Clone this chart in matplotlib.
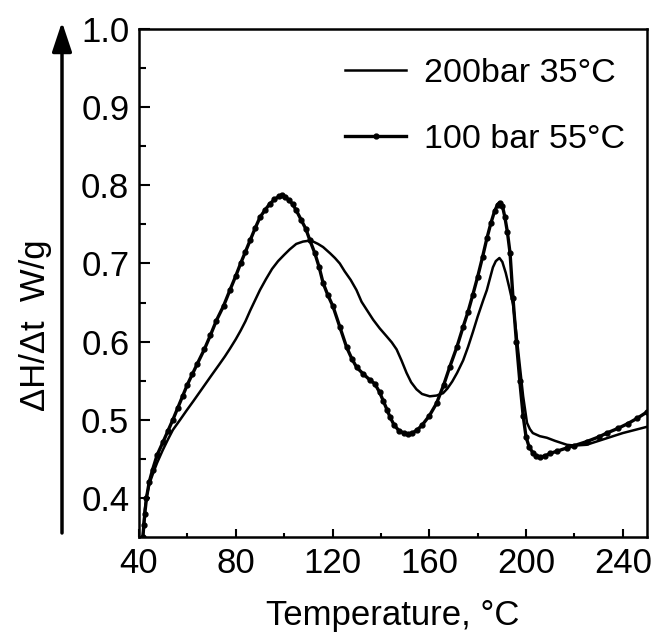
import matplotlib
matplotlib.use("Agg")
import matplotlib.pyplot as plt
from matplotlib.ticker import MultipleLocator

plt.rcParams['font.family'] = ['Liberation Sans', 'DejaVu Sans']

# ---- data ----
solid_label = "200bar 35°C"
solid_x = [41.6, 42.0, 42.4, 43.2, 44.4, 46, 47.5, 49.8, 52, 54, 57, 59.7, 62.5, 65, 67.5, 70,
           73, 75.5, 77.6, 80, 82, 84, 86, 88, 90, 92.5, 95, 97.5, 100, 102.3, 105, 107.8,
           110, 112, 114, 116.1, 119, 121, 123, 125, 127.5, 129.9, 132, 134.5, 136.8, 139.5,
           142.3, 144.5, 146.5, 148.5, 150.6, 152.5, 154.7, 157, 160.2, 163, 165.7,
           167.5, 169.5, 171.5, 174, 176, 178, 180, 182.3, 183.8, 185, 186.3, 187.5, 189, 190.2,
           191.6, 193, 194.6, 196, 197.4, 198.8, 200.4, 201.6, 202.8, 205.7, 208.6, 212,
           216.9, 220, 225, 230, 235, 240, 245, 250]
solid_y = [0.350, 0.368, 0.385, 0.403, 0.419, 0.433, 0.445, 0.461, 0.475, 0.487, 0.500, 0.512,
           0.524, 0.535, 0.546, 0.557, 0.570, 0.581, 0.591, 0.603, 0.614, 0.626, 0.640, 0.653,
           0.666, 0.680, 0.693, 0.703, 0.711, 0.718, 0.725, 0.728, 0.729, 0.728, 0.725, 0.721,
           0.713, 0.707, 0.700, 0.690, 0.679, 0.666, 0.651, 0.639, 0.628, 0.617, 0.607, 0.599,
           0.590, 0.576, 0.560, 0.548, 0.539, 0.533, 0.530, 0.531, 0.534,
           0.540, 0.549, 0.560, 0.576, 0.593, 0.612, 0.632, 0.653, 0.666, 0.680, 0.695,
           0.703, 0.707, 0.702, 0.688, 0.670, 0.648, 0.610, 0.570, 0.530, 0.496, 0.488, 0.483,
           0.479, 0.477, 0.473, 0.468, 0.467, 0.468, 0.473, 0.478, 0.483, 0.487, 0.491]

dot_label = "100 bar 55°C"
dot_x = [41.6, 42.0, 42.4, 43.1, 44.2, 45.6, 47.5, 50, 52, 54, 56, 58, 60, 62, 64, 67, 69.5,
         72, 75, 77.6, 80, 82, 84, 86, 88, 90, 92, 94, 96, 98, 99, 100.5, 102, 103.5, 105, 107,
         109, 110.6, 112.7, 114.5, 116.1, 118, 120.2, 123, 125.8, 128, 130, 132.6, 135.4,
         137.5, 139.5, 141, 142.5, 143.7, 145.5, 147.5, 149.5, 151.2, 153, 155, 157, 160, 163,
         166, 168.5, 171.4, 174, 176, 178, 180, 182, 183.8, 185.5, 187, 188.2, 189.2, 190.2,
         191.2, 192.3, 193.4, 194.6, 196, 197.4, 198.8, 200, 201.3, 202.8, 204, 205.7, 208,
         210, 213, 216.9, 220, 225, 230, 233.4, 238, 242, 246, 250]
dot_y = [0.350, 0.365, 0.380, 0.400, 0.420, 0.436, 0.455, 0.472, 0.486, 0.500, 0.515, 0.530,
         0.545, 0.558, 0.571, 0.590, 0.608, 0.627, 0.646, 0.666, 0.684, 0.700, 0.715, 0.730,
         0.745, 0.759, 0.768, 0.776, 0.782, 0.786, 0.787, 0.785, 0.781, 0.776, 0.768, 0.756,
         0.744, 0.730, 0.713, 0.695, 0.675, 0.660, 0.645, 0.619, 0.593, 0.578, 0.567, 0.559,
         0.551, 0.546, 0.535, 0.524, 0.513, 0.504, 0.493, 0.486, 0.483, 0.482, 0.483,
         0.487, 0.493, 0.505, 0.521, 0.545, 0.568, 0.593, 0.619, 0.638, 0.660, 0.683, 0.708,
         0.732, 0.752, 0.767, 0.775, 0.778, 0.774, 0.760, 0.740, 0.713, 0.656, 0.600, 0.550,
         0.505, 0.478, 0.465, 0.458, 0.454, 0.452, 0.454, 0.457, 0.460, 0.464, 0.467, 0.472,
         0.478, 0.483, 0.489, 0.495, 0.502, 0.510]

x_label = "Temperature, °C"
y_label = "ΔH/Δt  W/g"

fig = plt.figure(figsize=(6.53, 6.36), dpi=100)
ax = fig.add_axes([139/653, 1-537/636, 508/653, 508/636])

ax.plot(solid_x, solid_y, color='black', lw=1.8, label=solid_label)
ax.plot(dot_x, dot_y, color='black', lw=2.4, marker='o', markersize=3.5, label=dot_label)

ax.set_xlim(40, 250)
ax.set_ylim(0.35, 1.0)
ax.xaxis.set_major_locator(MultipleLocator(40))
ax.xaxis.set_minor_locator(MultipleLocator(20))
ax.yaxis.set_minor_locator(MultipleLocator(0.05))
ax.set_yticks([0.4, 0.5, 0.6, 0.7, 0.8, 0.9, 1.0])
ax.set_yticklabels(['0.4', '0.5', '0.6', '0.7', '0.8', '0.9', '1.0'])

ax.tick_params(axis='both', which='both', direction='in', width=1.5, labelsize=25,
               top=False, right=False)
ax.tick_params(axis='y', which='major', length=8, pad=7)
ax.tick_params(axis='y', which='minor', length=5)
ax.tick_params(axis='x', which='major', length=6, pad=7)
ax.tick_params(axis='x', which='minor', length=3)
for s in ax.spines.values():
    s.set_linewidth(1.8)

ax.set_xlabel(x_label, fontsize=25, labelpad=14)
fig.text(35/653, 1-325/636, y_label, rotation=90, fontsize=25, ha='center', va='center')

ax.legend(loc='upper right', bbox_to_anchor=(1.003, 0.99), frameon=False, fontsize=24.5,
          handlelength=1.78, handletextpad=0.52, labelspacing=1.02, borderaxespad=0.3)

ax.annotate('', xy=(62/653, 1-22/636), xytext=(62/653, 1-533/636),
            xycoords='figure fraction', textcoords='figure fraction',
            arrowprops=dict(arrowstyle='-|>,head_length=0.9,head_width=0.3', lw=2.5,
                            color='black', shrinkA=0, shrinkB=0, mutation_scale=20))

fig.savefig('out.png', dpi=100)
